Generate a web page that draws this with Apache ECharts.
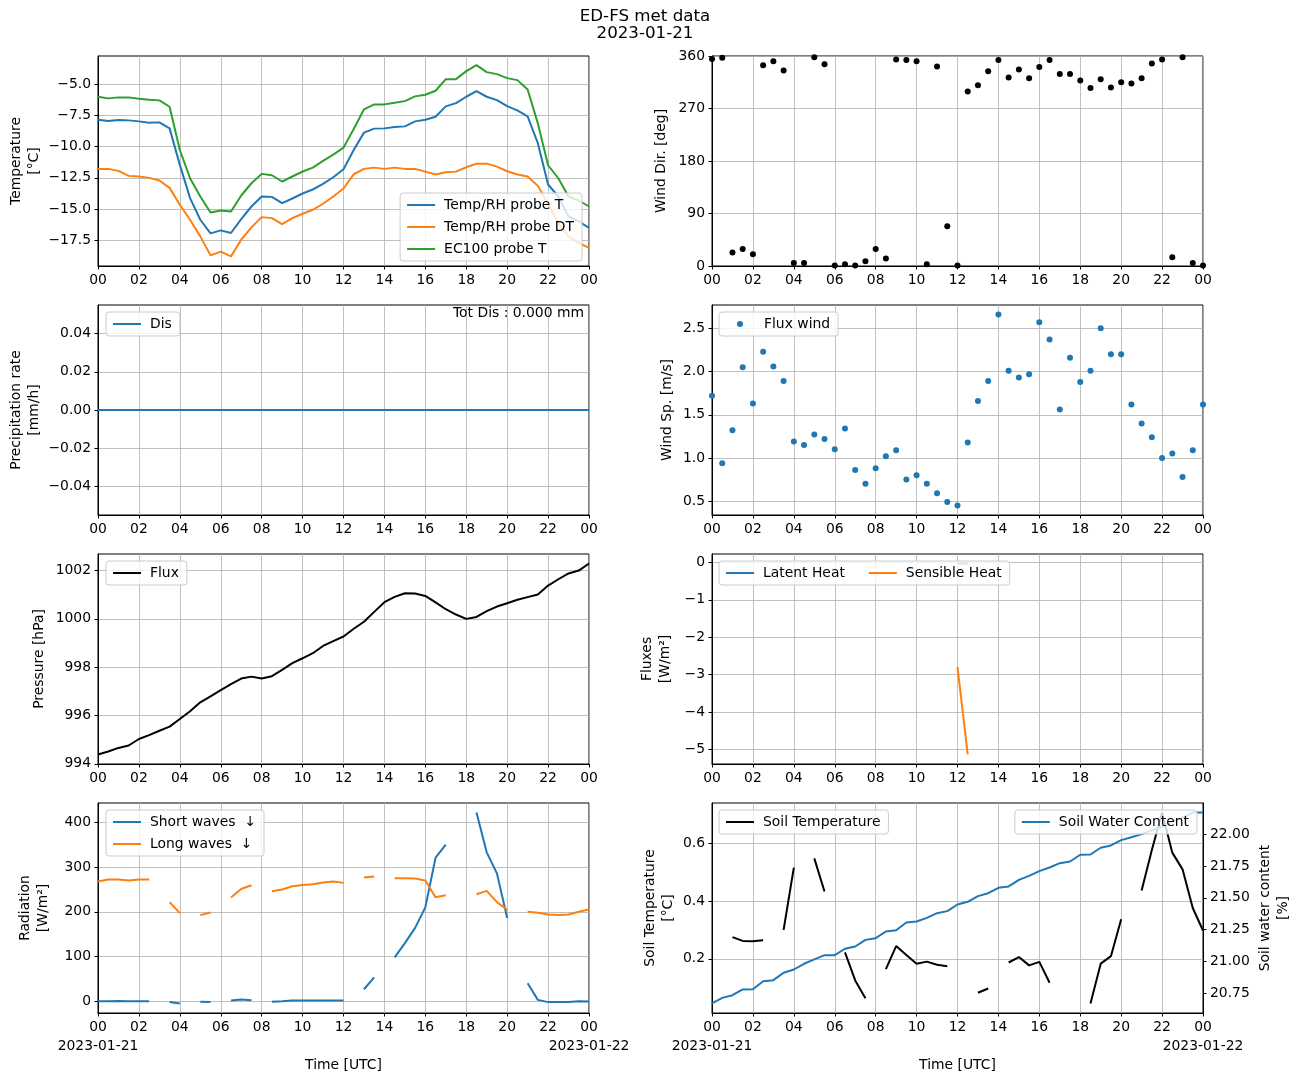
<!DOCTYPE html>
<html>
<head>
<meta charset="utf-8">
<script src="https://cdn.jsdelivr.net/npm/echarts@6/dist/echarts.min.js"></script>
<style>html,body{margin:0;padding:0;background:#fff}#c{width:1298px;height:1083px}</style>
</head>
<body>
<div id="c"></div>
<script>
// ---------------- data ----------------
const hours = [0,0.5,1,1.5,2,2.5,3,3.5,4,4.5,5,5.5,6,6.5,7,7.5,8,8.5,9,9.5,10,10.5,11,11.5,12,12.5,13,13.5,14,14.5,15,15.5,16,16.5,17,17.5,18,18.5,19,19.5,20,20.5,21,21.5,22,22.5,23,23.5,24];

const tempRH = [-7.85,-7.95,-7.87,-7.90,-7.98,-8.09,-8.06,-8.54,-11.46,-14.12,-15.85,-16.94,-16.70,-16.91,-15.80,-14.79,-13.99,-14.02,-14.52,-14.15,-13.75,-13.43,-12.98,-12.45,-11.81,-10.27,-8.88,-8.56,-8.54,-8.43,-8.38,-7.98,-7.85,-7.61,-6.78,-6.52,-6.01,-5.56,-6.01,-6.28,-6.76,-7.10,-7.58,-9.73,-13.03,-13.99,-15.59,-15.98,-16.50];
const dewRH = [-11.78,-11.78,-11.94,-12.34,-12.39,-12.50,-12.71,-13.30,-14.65,-15.85,-17.18,-18.70,-18.40,-18.78,-17.45,-16.46,-15.64,-15.72,-16.20,-15.72,-15.37,-15.05,-14.57,-13.99,-13.35,-12.21,-11.78,-11.68,-11.78,-11.68,-11.78,-11.78,-12.00,-12.23,-12.05,-12.00,-11.65,-11.36,-11.36,-11.60,-11.97,-12.23,-12.39,-13.14,-14.60,-16.10,-17.18,-17.70,-18.10];
const ec100T = [-6.01,-6.14,-6.06,-6.06,-6.17,-6.25,-6.30,-6.81,-10.27,-12.53,-13.99,-15.27,-15.11,-15.19,-13.91,-12.93,-12.18,-12.29,-12.79,-12.39,-11.99,-11.68,-11.14,-10.64,-10.08,-8.59,-7.02,-6.62,-6.62,-6.49,-6.36,-5.98,-5.85,-5.53,-4.60,-4.60,-3.96,-3.48,-4.04,-4.20,-4.52,-4.68,-5.43,-8.14,-11.49,-12.53,-13.99,-14.31,-14.79];

const windDir = [355,357,23,29,20,344,351,335,5,5,358,346,1,3,1,8,29,13,354,353,351,3,342,68,1,299,310,334,353,323,337,322,341,353,329,329,318,305,320,306,315,313,322,347,354,15,358,5,1];
const windSpeed = [1.72,0.94,1.32,2.05,1.63,2.23,2.06,1.89,1.19,1.15,1.27,1.22,1.10,1.34,0.86,0.70,0.88,1.02,1.09,0.75,0.80,0.70,0.59,0.49,0.45,1.18,1.66,1.89,2.66,2.01,1.93,1.97,2.57,2.37,1.56,2.16,1.88,2.01,2.50,2.20,2.20,1.62,1.40,1.24,1.00,1.05,0.78,1.09,1.62];

const precipDis = [0,0,0,0,0,0,0,0,0,0,0,0,0,0,0,0,0,0,0,0,0,0,0,0,0,0,0,0,0,0,0,0,0,0,0,0,0,0,0,0,0,0,0,0,0,0,0,0,0];

const pressure = [994.39,994.51,994.66,994.76,995.03,995.19,995.37,995.54,995.86,996.18,996.55,996.79,997.05,997.30,997.53,997.61,997.53,997.63,997.89,998.17,998.37,998.58,998.88,999.08,999.27,999.59,999.88,1000.29,1000.69,1000.91,1001.06,1001.05,1000.95,1000.68,1000.40,1000.18,1000.00,1000.08,1000.32,1000.51,1000.65,1000.79,1000.90,1001.01,1001.38,1001.64,1001.88,1002.00,1002.29];

const latentHeat = [null,null,null,null,null,null,null,null,null,null,null,null,null,null,null,null,null,null,null,null,null,null,null,null,-0.03,-0.03,null,null,null,null,null,null,null,null,null,null,null,null,null,null,null,null,null,null,null,null,null,null,null];
const sensibleHeat = [null,null,null,null,null,null,null,null,null,null,null,null,null,null,null,null,null,null,null,null,null,null,null,null,-2.80,-5.13,null,null,null,null,null,null,null,null,null,null,null,null,null,null,null,null,null,null,null,null,null,null,null];

const shortWave = [0,0,0.5,0,0,0,null,-1.5,-5,null,-1,-2,null,1.5,3.7,2,null,-1,0,1.5,1.5,1.5,1.5,1.5,1.5,null,26.8,53.5,null,98,130,164,210,321,350,null,null,422,333,286,186,null,40,3,-2,-1.5,-1.5,0,-0.5];
const longWave = [268,272,272,270,272,272,null,221.6,197,null,192.6,198.5,null,232,251,259.5,null,246,250,257,260,261.7,265.4,267.7,264.7,null,276.6,278.8,null,275,275,274.3,270,232.7,237,null,null,239.4,246.8,221.6,204.5,null,200,197.8,194,192.6,194,200,205];

const soilTemp = [null,null,0.275,0.262,0.261,0.264,null,0.300,0.516,null,0.548,0.433,null,0.222,0.125,0.063,null,0.164,0.244,0.213,0.183,0.190,0.179,0.174,null,null,0.082,0.097,null,0.187,0.206,0.177,0.189,0.117,null,null,null,0.045,0.183,0.209,0.337,null,0.437,0.577,0.707,0.568,0.510,0.376,0.298];
const soilWater = [20.669,20.713,20.734,20.779,20.781,20.844,20.852,20.910,20.936,20.981,21.015,21.049,21.049,21.099,21.117,21.169,21.182,21.235,21.245,21.306,21.313,21.342,21.379,21.395,21.447,21.468,21.513,21.536,21.578,21.589,21.641,21.672,21.709,21.738,21.772,21.785,21.838,21.840,21.893,21.911,21.953,21.976,22.000,22.030,22.060,22.100,22.130,22.170,22.170];

// tick labels
const xTicks = [0,2,4,6,8,10,12,14,16,18,20,22,24];
const dateTicks = [0,24];
const dateLabels = ['2023-01-21','2023-01-22'];
const tempTicks = [-17.5,-15,-12.5,-10,-7.5,-5];
const dirTicks = [0,90,180,270,360];
const precipTicks = [-0.04,-0.02,0,0.02,0.04];
const speedTicks = [0.5,1,1.5,2,2.5];
const pressTicks = [994,996,998,1000,1002];
const fluxTicks = [-5,-4,-3,-2,-1,0];
const radTicks = [0,100,200,300,400];
const soilTTicks = [0.2,0.4,0.6];
const soilWTicks = [20.75,21.0,21.25,21.5,21.75,22.0];

// ---------------- styling ----------------
const FONT = 'DejaVu Sans';
const FS = 13.9;
const GRIDC = '#b0b0b0';
const BLUE = '#1f77b4', ORANGE = '#ff7f0e', GREEN = '#2ca02c', BLACK = '#000000';

function fmt(d) {
  return function (v) {
    let s = Number(v).toFixed(d);
    if (Number(s) === 0) s = (0).toFixed(d);
    return s.replace('-', '\u2212');
  };
}

const cols = [98, 712];
const rows = [56, 305, 554, 803];
const grids = [];
for (let r = 0; r < 4; r++) for (let c = 0; c < 2; c++) {
  grids.push({left: cols[c], top: rows[r], width: 491, height: 210, show: true, borderColor: '#000', borderWidth: 1, backgroundColor: 'transparent', containLabel: false});
}

function xAxis(i) {
  const bottom = i >= 6;
  return {
    type: 'value', gridIndex: i, min: 0, max: 24, position: 'bottom',
    axisLine: {show: true, onZero: false, lineStyle: {color: '#000', width: 1}},
    axisTick: {show: true, length: 3.5, lineStyle: {color: '#000'}, customValues: xTicks},
    axisLabel: {color: '#000', fontFamily: FONT, fontSize: FS, margin: 7, customValues: xTicks,
      showMinLabel: true, showMaxLabel: true,
      formatter: function (v) { const h = v % 24; return (h < 10 ? '0' : '') + h; }},
    splitLine: {show: true, lineStyle: {color: GRIDC, width: 0.8}},
    name: bottom ? 'Time [UTC]' : '', nameLocation: 'middle', nameGap: 45,
    nameTextStyle: {color: '#000', fontFamily: FONT, fontSize: FS}
  };
}
function dateAxis(i) {
  return {
    type: 'value', gridIndex: i, min: 0, max: 24, position: 'bottom', offset: 0,
    axisLine: {show: false, onZero: false}, axisTick: {show: false}, splitLine: {show: false},
    axisLabel: {color: '#000', fontFamily: FONT, fontSize: FS, margin: 26, customValues: dateTicks,
      showMinLabel: true, showMaxLabel: true,
      formatter: function (v) { return v === 0 ? dateLabels[0] : dateLabels[1]; }}
  };
}

function yAxis(i, o) {
  return {
    type: 'value', gridIndex: i, position: o.position || 'left', min: o.min, max: o.max,
    axisLine: {show: true, onZero: false, lineStyle: {color: '#000', width: 1}},
    axisTick: {show: true, length: 3.5, lineStyle: {color: '#000'}, customValues: o.ticks},
    axisLabel: {color: '#000', fontFamily: FONT, fontSize: FS, margin: 7, formatter: o.fmt, customValues: o.ticks},
    splitLine: {show: o.split !== false, lineStyle: {color: GRIDC, width: 0.8}},
    name: o.name, nameLocation: 'middle', nameGap: o.gap, nameRotate: 90,
    nameTextStyle: {color: '#000', fontFamily: FONT, fontSize: FS, lineHeight: 18}
  };
}

function pairs(vals) { return hours.map((h, k) => [h, vals[k] == null ? '-' : vals[k]]); }

function line(name, idx, yi, vals, color) {
  return {type: 'line', name: name, xAxisIndex: idx, yAxisIndex: yi, data: pairs(vals), showSymbol: false, symbol: 'none',
    color: color, lineStyle: {color: color, width: 2}, itemStyle: {color: color}, connectNulls: false, animation: false, z: 3};
}
function scatter(name, idx, yi, vals, color) {
  return {type: 'scatter', name: name, xAxisIndex: idx, yAxisIndex: yi, data: pairs(vals), symbol: 'circle', symbolSize: 6,
    color: color, itemStyle: {color: color, opacity: 1}, animation: false, z: 3};
}

function legend(o) {
  return Object.assign({
    orient: 'vertical', icon: 'rect', itemWidth: 28, itemHeight: 2, itemGap: 8,
    padding: [5, 8, 5, 7], backgroundColor: 'rgba(255,255,255,0.8)', borderColor: '#cccccc', borderWidth: 1, borderRadius: 3,
    textStyle: {color: '#000', fontFamily: FONT, fontSize: FS, padding: [0, 0, 0, 4]}, selectedMode: false, z: 10
  }, o);
}
function dotLegend(o) {
  return legend(Object.assign({icon: 'circle', itemWidth: 6, itemHeight: 6, padding: [5, 8, 5, 18],
    itemStyle: {opacity: 1},
    textStyle: {color: '#000', fontFamily: FONT, fontSize: FS, padding: [0, 0, 0, 16]}}, o));
}

const yAxes = [
  yAxis(0, {min: -19.55, max: -2.75, ticks: tempTicks, fmt: fmt(1), name: 'Temperature\n[°C]', gap: 55}),
  yAxis(1, {min: 0, max: 360, ticks: dirTicks, fmt: fmt(0), name: 'Wind Dir. [deg]', gap: 42}),
  yAxis(2, {min: -0.055, max: 0.055, ticks: precipTicks, fmt: fmt(2), name: 'Precipitation rate\n[mm/h]', gap: 55}),
  yAxis(3, {min: 0.3395, max: 2.7705, ticks: speedTicks, fmt: fmt(1), name: 'Wind Sp. [m/s]', gap: 36}),
  yAxis(4, {min: 993.995, max: 1002.685, ticks: pressTicks, fmt: fmt(0), name: 'Pressure [hPa]', gap: 50}),
  yAxis(5, {min: -5.385, max: 0.225, ticks: fluxTicks, fmt: fmt(0), name: 'Fluxes\n[W/m²]', gap: 38}),
  yAxis(6, {min: -26.35, max: 443.35, ticks: radTicks, fmt: fmt(0), name: 'Radiation\n[W/m²]', gap: 46}),
  yAxis(7, {min: 0.0119, max: 0.7401, ticks: soilTTicks, fmt: fmt(1), name: 'Soil Temperature\n[°C]', gap: 35}),
  yAxis(7, {min: 20.594, max: 22.245, ticks: soilWTicks, fmt: fmt(2), name: 'Soil water content\n[%]', gap: 53, position: 'right', split: false})
];

const option = {
  backgroundColor: '#ffffff',
  animation: false,
  textStyle: {fontFamily: FONT},
  grid: grids,
  xAxis: [0,1,2,3,4,5,6,7].map(xAxis).concat([dateAxis(6), dateAxis(7)]),
  yAxis: yAxes,
  legend: [
    legend({data: ['Temp/RH probe T', 'Temp/RH probe DT', 'EC100 probe T'], right: 716, top: 193}),
    legend({data: ['Dis'], left: 106, top: 312}),
    dotLegend({data: ['Flux wind'], left: 719, top: 312}),
    legend({data: ['Flux'], left: 106, top: 561}),
    legend({data: ['Latent Heat', 'Sensible Heat'], orient: 'horizontal', itemGap: 24, left: 719, top: 561}),
    legend({data: ['Short waves  ↓', 'Long waves  ↓'], left: 106, top: 810}),
    legend({data: ['Soil Temperature'], left: 719, top: 810}),
    legend({data: ['Soil Water Content'], right: 101, top: 810})
  ],
  graphic: [
    {type: 'text', x: 645, y: 8, z: 20, style: {text: 'ED-FS met data\n2023-01-21', align: 'center', textAlign: 'center', verticalAlign: 'top', textVerticalAlign: 'top', fontFamily: FONT, fontSize: 16.7, lineHeight: 17, fill: '#000'}},
    {type: 'text', x: 584, y: 306, z: 20, style: {text: 'Tot Dis : 0.000 mm', align: 'right', textAlign: 'right', verticalAlign: 'top', textVerticalAlign: 'top', fontFamily: FONT, fontSize: FS, fill: '#000'}}
  ],
  series: [
    line('Temp/RH probe T', 0, 0, tempRH, BLUE),
    line('Temp/RH probe DT', 0, 0, dewRH, ORANGE),
    line('EC100 probe T', 0, 0, ec100T, GREEN),
    scatter('Wind Dir', 1, 1, windDir, BLACK),
    line('Dis', 2, 2, precipDis, BLUE),
    scatter('Flux wind', 3, 3, windSpeed, BLUE),
    line('Flux', 4, 4, pressure, BLACK),
    line('Latent Heat', 5, 5, latentHeat, BLUE),
    line('Sensible Heat', 5, 5, sensibleHeat, ORANGE),
    line('Short waves  ↓', 6, 6, shortWave, BLUE),
    line('Long waves  ↓', 6, 6, longWave, ORANGE),
    line('Soil Temperature', 7, 7, soilTemp, BLACK),
    line('Soil Water Content', 7, 8, soilWater, BLUE)
  ]
};

const chart = echarts.init(document.getElementById('c'), null, {renderer: 'canvas'});
chart.setOption(option);
</script>
</body>
</html>
